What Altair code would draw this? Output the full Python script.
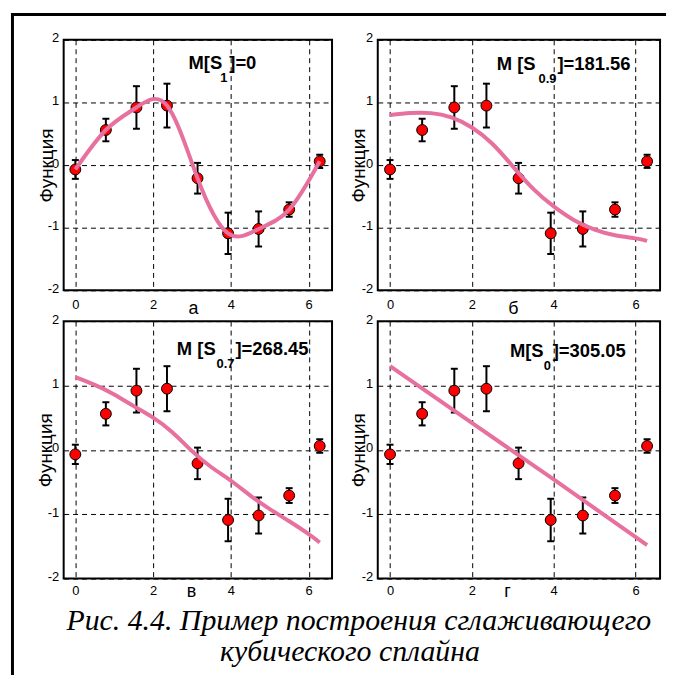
import altair as alt
import pandas as pd

# ---------------- data ----------------
x_pts = [0.0, 0.785, 1.571, 2.356, 3.142, 3.927, 4.712, 5.498, 6.283]
y_pts = [-0.07, 0.56, 0.92, 0.95, -0.21, -1.09, -1.02, -0.71, 0.06]
y_err = [0.15, 0.18, 0.34, 0.35, 0.245, 0.33, 0.28, 0.115, 0.105]

curve_x = [0.0, 0.5, 1.0, 1.5, 2.0, 2.5, 3.0, 3.5, 4.0, 4.5, 5.0, 5.5, 6.0, 6.283]
curve_09 = [0.80, 0.83, 0.83, 0.76, 0.60, 0.34, -0.02, -0.38, -0.66, -0.88, -1.03, -1.12, -1.17, -1.21]
curve_07 = [1.13, 1.01, 0.86, 0.68, 0.50, 0.27, -0.02, -0.27, -0.48, -0.71, -0.92, -1.11, -1.31, -1.44]
line_x = [0.0, 2.0, 4.0, 6.283]
line_0 = [1.30, 0.42, -0.46, -1.48]

panel_letters = ["а", "б", "в", "г"]
ann_main = ["M[S", "M [S", "M [S", "M[S"]
ann_sub = ["1", "0.9", "0.7", "0"]
ann_rest = ["]=0", "]=181.56", "]=268.45", "]=305.05"]
ann_x = [2.91, 2.61, 2.61, 2.93]
ann_y = [1.535, 1.52, 1.47, 1.44]
caption = ["Рис. 4.4. Пример построения сглаживающего", "кубического сплайна"]
y_title = "Функция"
x_ticks = [0, 2, 4, 6]
y_ticks = [-2, -1, 0, 1, 2]

# ---------------- styling ----------------
PINK = "#E8709F"
FONT = "Liberation Sans"
X_DOM = [-0.3, 6.6]
Y_DOM = [-2, 2]
COL_W = [270, 284]
ROW_H = [252, 259]

pts_df = pd.DataFrame({
    "x": x_pts,
    "y": y_pts,
    "lo": [a - e for a, e in zip(y_pts, y_err)],
    "hi": [a + e for a, e in zip(y_pts, y_err)],
})
curves = [
    pts_df[["x", "y"]],
    pd.DataFrame({"x": curve_x, "y": curve_09}),
    pd.DataFrame({"x": curve_x, "y": curve_07}),
    pd.DataFrame({"x": line_x, "y": line_0}),
]
interps = ["natural", "natural", "natural", "linear"]

# annotation text offsets (px): subscript, rest
sub_dx = [32, 42, 40, 34]
rest_dx = [41, 61, 59, 43]
ytitle_x = [-11, -13, -12, -13]
xtitle_x = [130, 136, 128, 130]
xlab_pad = [8, 8, 6, 6]
xtitle_y = [23, 23, 18, 18]

one = pd.DataFrame({"k": [0]})


def panel(i):
    w = COL_W[i % 2]
    h = ROW_H[i // 2]
    xs = alt.Scale(domain=X_DOM, nice=False, zero=False)
    ys = alt.Scale(domain=Y_DOM, nice=False, zero=False)
    common = dict(
        grid=True, gridDash=[5, 4], gridColor="black", gridOpacity=1, gridWidth=1,
        domain=False, ticks=False, tickSize=0,
        labelFont=FONT, labelFontSize=13, labelColor="black", labelFlush=False,
        labelOverlap=False, labelExpr="datum.value + ''",
        titleFont=FONT, titleFontWeight="normal", titleColor="black",
        titleBaseline="alphabetic", titleAlign="center",
    )
    xaxis = alt.Axis(values=x_ticks, labelPadding=xlab_pad[i], title=panel_letters[i],
                     titleFontSize=18, titleX=xtitle_x[i], titleY=xtitle_y[i], **common)
    yaxis = alt.Axis(values=y_ticks, labelPadding=5, labelOffset=-2, title=y_title,
                     titleFontSize=19, titleAngle=270, titleX=ytitle_x[i], titleY=h / 2,
                     **common)

    def X(f="x"):
        return alt.X(f"{f}:Q", scale=xs, axis=xaxis)

    def Y(f="y"):
        return alt.Y(f"{f}:Q", scale=ys, axis=yaxis)

    bars = alt.Chart(pts_df).mark_rule(color="black", strokeWidth=2).encode(
        x=X(), y=Y("lo"), y2="hi:Q")
    cap_lo = alt.Chart(pts_df).mark_tick(orient="horizontal", size=7, thickness=2,
                                         color="black", opacity=1).encode(x=X(), y=Y("lo"))
    cap_hi = alt.Chart(pts_df).mark_tick(orient="horizontal", size=7, thickness=2,
                                         color="black", opacity=1).encode(x=X(), y=Y("hi"))
    points = alt.Chart(pts_df).mark_circle(size=120, color="#FF0000", opacity=1,
                                           stroke="black", strokeWidth=1).encode(x=X(), y=Y())
    curve = alt.Chart(curves[i]).mark_line(color=PINK, strokeWidth=4,
                                           interpolate=interps[i]).encode(x=X(), y=Y())
    ann_df = pd.DataFrame({"x": [ann_x[i]], "y": [ann_y[i]]})
    tstyle = dict(align="left", baseline="alphabetic", font=FONT, fontWeight="bold",
                  color="black")
    t1 = alt.Chart(ann_df).mark_text(fontSize=18.5, **tstyle).encode(
        x=X(), y=Y(), text=alt.value(ann_main[i]))
    t2 = alt.Chart(ann_df).mark_text(fontSize=13, dx=sub_dx[i], dy=13, **tstyle).encode(
        x=X(), y=Y(), text=alt.value(ann_sub[i]))
    t3 = alt.Chart(ann_df).mark_text(fontSize=18.5, dx=rest_dx[i], **tstyle).encode(
        x=X(), y=Y(), text=alt.value(ann_rest[i]))
    layers = [bars, cap_lo, cap_hi, points, curve, t1, t2, t3]

    if i == 0:
        # page frame (left and top thick lines)
        vline = alt.Chart(one).mark_rule(color="black", strokeWidth=3).encode(
            x=alt.value(-51.5), y=alt.value(-27), y2=alt.value(639))
        hline = alt.Chart(one).mark_rule(color="black", strokeWidth=3).encode(
            x=alt.value(-53), x2=alt.value(606), y=alt.value(-25.5))
        layers += [vline, hline]
    if i == 2:
        cstyle = dict(align="center", baseline="alphabetic", font="Liberation Serif",
                      fontStyle="italic", fontSize=30, color="black")
        c1 = alt.Chart(one).mark_text(**cstyle).encode(
            x=alt.value(297), y=alt.value(311), text=alt.value(caption[0]))
        c2 = alt.Chart(one).mark_text(**cstyle).encode(
            x=alt.value(288), y=alt.value(342), text=alt.value(caption[1]))
        layers += [c1, c2]

    return alt.layer(*layers).properties(width=w, height=h)


chart = alt.concat(
    panel(0), panel(1), panel(2), panel(3),
    columns=2,
    spacing={"row": 31, "column": 46},
    bounds="flush",
).properties(
    padding=0,
    background="white",
).configure_view(
    stroke="black", strokeWidth=2, fill="white"
)

chart.save("out.html", embed_options={"renderer": "svg", "actions": False})
